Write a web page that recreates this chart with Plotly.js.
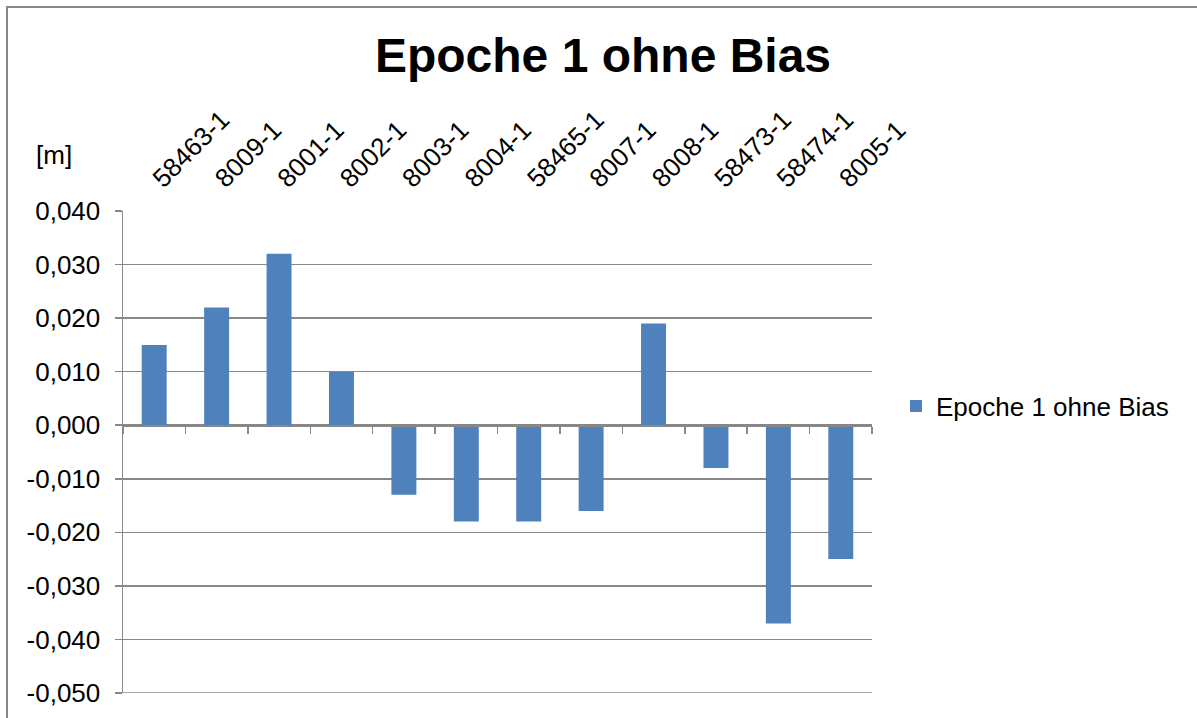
<!DOCTYPE html>
<html>
<head>
<meta charset="utf-8">
<script src="https://cdn.plot.ly/plotly-3.0.1.min.js"></script>
<style>
  html, body { margin: 0; padding: 0; overflow: hidden; background: #fff; }
  #chart { width: 1197px; height: 718px; }
  #frame { position: absolute; left: 6px; top: 6px; width: 1400px; height: 900px;
           border: 2px solid #878787; pointer-events: none; }
</style>
</head>
<body>
<div id="chart"></div>
<div id="frame"></div>
<script>
const chartTitle = 'Epoche 1 ohne Bias';
const seriesName = 'Epoche 1 ohne Bias';
const yUnit = '[m]';
const categories = ['58463-1','8009-1','8001-1','8002-1','8003-1','8004-1','58465-1','8007-1','8008-1','58473-1','58474-1','8005-1'];
const values = [0.015, 0.022, 0.032, 0.010, -0.013, -0.018, -0.018, -0.016, 0.019, -0.008, -0.037, -0.025];
const yTickVals = [0.04, 0.03, 0.02, 0.01, 0, -0.01, -0.02, -0.03, -0.04, -0.05];
const yTickText = ['0,040','0,030','0,020','0,010','0,000','-0,010','-0,020','-0,030','-0,040','-0,050'];
const yRange = [-0.05, 0.04];

const FONT = '"Liberation Sans", Arial, sans-serif';
const GRAY = '#878787';
const BLUE = '#4F81BD';
const FS = 26;

const W = 1197, H = 718;
const zeroPos = (0 - yRange[0]) / (yRange[1] - yRange[0]);

const traces = [
  {
    type: 'bar', x: categories, y: values, name: seriesName,
    xaxis: 'x', yaxis: 'y',
    marker: { color: BLUE, line: { width: 0 } },
    hoverinfo: 'x+y'
  },
  {
    type: 'scatter', mode: 'markers', x: categories, y: values,
    xaxis: 'x2', yaxis: 'y', showlegend: false, hoverinfo: 'skip',
    marker: { opacity: 0, size: 1 }
  }
];

const layout = {
  width: W, height: H,
  paper_bgcolor: '#ffffff', plot_bgcolor: '#ffffff',
  margin: { l: 123, r: 325, t: 211, b: 25, pad: 0 },
  font: { family: FONT, color: '#000000', size: FS },
  title: {
    text: chartTitle, xref: 'container', yref: 'container',
    x: 603 / W, y: 1 - 55.5 / H, xanchor: 'center', yanchor: 'middle',
    font: { family: FONT, size: 48, weight: 700, color: '#000000' }
  },
  bargap: 0.6,
  showlegend: true,
  legend: {
    xref: 'container', yref: 'container',
    x: 896 / W, y: 1 - 406 / H, xanchor: 'left', yanchor: 'middle',
    font: { family: FONT, size: FS, color: '#000000' },
    itemwidth: 30, bgcolor: 'rgba(0,0,0,0)', borderwidth: 0
  },
  xaxis: {
    type: 'category', anchor: 'free', position: zeroPos,
    showline: true, linecolor: GRAY, linewidth: 1.5,
    ticks: 'outside', tickson: 'boundaries', ticklen: 7, tickwidth: 1.5, tickcolor: GRAY,
    showticklabels: false, showgrid: false, zeroline: false,
    range: [-0.5, categories.length - 0.5], fixedrange: true
  },
  xaxis2: {
    type: 'category', overlaying: 'x', anchor: 'y', side: 'top',
    showline: false, ticks: '', showgrid: false, zeroline: false,
    tickangle: -45, ticklabelstandoff: 12,
    tickfont: { family: FONT, size: FS, color: '#000000' },
    range: [-0.5, categories.length - 0.5], fixedrange: true
  },
  yaxis: {
    range: yRange, tickvals: yTickVals, ticktext: yTickText,
    showline: true, linecolor: GRAY, linewidth: 1.5,
    ticks: 'outside', ticklen: 7, tickwidth: 1.5, tickcolor: GRAY,
    showgrid: true, gridcolor: GRAY, gridwidth: 1.5, zeroline: false,
    ticklabelstandoff: 9,
    tickfont: { family: FONT, size: FS, color: '#000000' },
    fixedrange: true
  },
  shapes: [
    {
      type: 'line', xref: 'paper', yref: 'y', x0: 0, x1: 1,
      y0: yRange[0], y1: yRange[0], layer: 'below',
      line: { color: GRAY, width: 1.5 }
    }
  ],
  annotations: [
    {
      text: yUnit, xref: 'paper', yref: 'paper', showarrow: false,
      x: (54 - 123) / (W - 123 - 325), y: (H - 25 - 155) / (H - 211 - 25),
      xanchor: 'center', yanchor: 'middle',
      font: { family: FONT, size: FS, color: '#000000' }
    }
  ]
};

Plotly.newPlot('chart', traces, layout, { displayModeBar: false, staticPlot: true });
</script>
</body>
</html>
